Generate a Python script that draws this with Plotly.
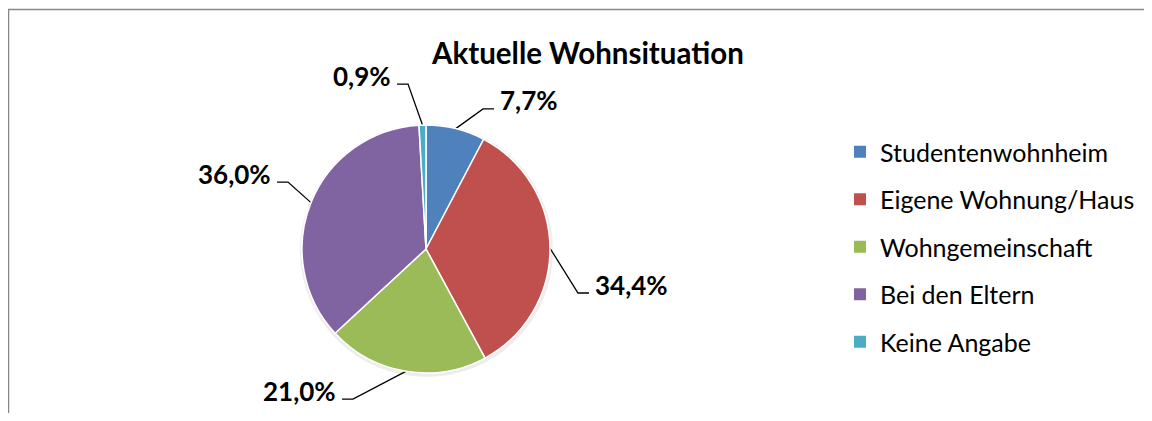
import math
import plotly.graph_objects as go

# ---- data ----
categories = ["Studentenwohnheim", "Eigene Wohnung/Haus", "Wohngemeinschaft",
              "Bei den Eltern", "Keine Angabe"]
values = [7.7, 34.4, 21.0, 36.0, 0.9]
value_labels = ["7,7%", "34,4%", "21,0%", "36,0%", "0,9%"]
colors = ["#4F81BD", "#C0504D", "#9BBB59", "#8064A2", "#4BACC6"]
title_text = "Aktuelle Wohnsituation"

# ---- layout constants (page pixels) ----
PAGE_W, PAGE_H = 1152, 421
OFF = 8                      # default body margin of the html page
W, H = PAGE_W - 2 * OFF, PAGE_H - 2 * OFF
CX, CY, R = 426, 249, 124
FONT = "Lato, 'Open Sans', sans-serif"
# elbow of each leader line, relative to pie centre in radii, and side of label
label_layout = [(0.46, -1.13, 1), (1.226, 0.355, 1), (-0.589, 1.21, -1),
                (-1.113, -0.54, -1), (-0.145, -1.33, -1)]
TAIL = 11
TEXT_GAP = 4

fig = go.Figure()

# chart frame (left and top edges visible; right/bottom run off the page)
fig.add_trace(go.Scatter(x=[8.5, 8.5, OFF + W], y=[OFF + H, 9.5, 9.5],
                         mode="lines", line=dict(color="#878787", width=1.5),
                         hoverinfo="skip", showlegend=False, cliponaxis=True))

fig.add_trace(go.Pie(
    labels=categories, values=values, sort=False, direction="clockwise",
    rotation=0, textinfo="none", hoverinfo="label+percent",
    marker=dict(colors=colors, line=dict(color="white", width=1.5)),
    domain=dict(x=[(CX - R - OFF) / W, (CX + R - OFF) / W],
                y=[(OFF + H - CY - R) / H, (OFF + H - CY + R) / H]),
    showlegend=False,
))

# leader lines + labels computed from the slice angles
total = sum(values)
cum = 0.0
lx, ly = [], []
annotations = []
for v, lab, (ex, ey, side) in zip(values, value_labels, label_layout):
    mid = (cum + v / 2) / total * 2 * math.pi
    cum += v
    sx = CX + R * math.sin(mid)
    sy = CY - R * math.cos(mid)
    bx = CX + ex * R
    by = CY + ey * R
    tx = bx + side * TAIL
    lx += [sx, bx, tx, None]
    ly += [sy, by, by, None]
    annotations.append(dict(
        x=tx + side * TEXT_GAP, y=by - 8.5, xref="x", yref="y",
        text=lab, showarrow=False,
        xanchor="left" if side > 0 else "right", yanchor="middle",
        font=dict(family=FONT, size=26, color="black", weight="bold"),
    ))

fig.add_trace(go.Scatter(x=lx, y=ly, mode="lines",
                         line=dict(color="black", width=1.3),
                         hoverinfo="skip", showlegend=False))

# legend entries
for i, (c, col) in enumerate(zip(categories, colors)):
    fig.add_trace(go.Scatter(
        x=[None], y=[None], mode="markers", name=c, legendgroup=f"g{i}",
        marker=dict(symbol="square", size=12, color=col, line=dict(width=0)),
    ))

annotations.append(dict(
    x=587, y=52, xref="x", yref="y", text=title_text, showarrow=False,
    xanchor="center", yanchor="middle",
    font=dict(family=FONT, size=29.5, color="black", weight="bold"),
))

shapes = [
    dict(type="circle", xref="x", yref="y", x0=CX - R - 2, y0=CY - R - 1,
         x1=CX + R + 3, y1=CY + R + 4, fillcolor="rgba(0,0,0,0.07)",
         line=dict(width=0), layer="below"),
]

fig.update_layout(
    width=W, height=H, margin=dict(l=0, r=0, t=0, b=0),
    paper_bgcolor="white", plot_bgcolor="white",
    xaxis=dict(range=[OFF, OFF + W], visible=False, fixedrange=True, domain=[0, 1]),
    yaxis=dict(range=[OFF + H, OFF], visible=False, fixedrange=True, domain=[0, 1]),
    showlegend=True,
    legend=dict(x=(840 - OFF) / W, y=(OFF + H - 129) / H,
                xanchor="left", yanchor="top",
                font=dict(family=FONT, size=25, color="black"),
                tracegroupgap=12, bgcolor="rgba(0,0,0,0)"),
    annotations=annotations, shapes=shapes,
)

fig.write_html("out.html")
